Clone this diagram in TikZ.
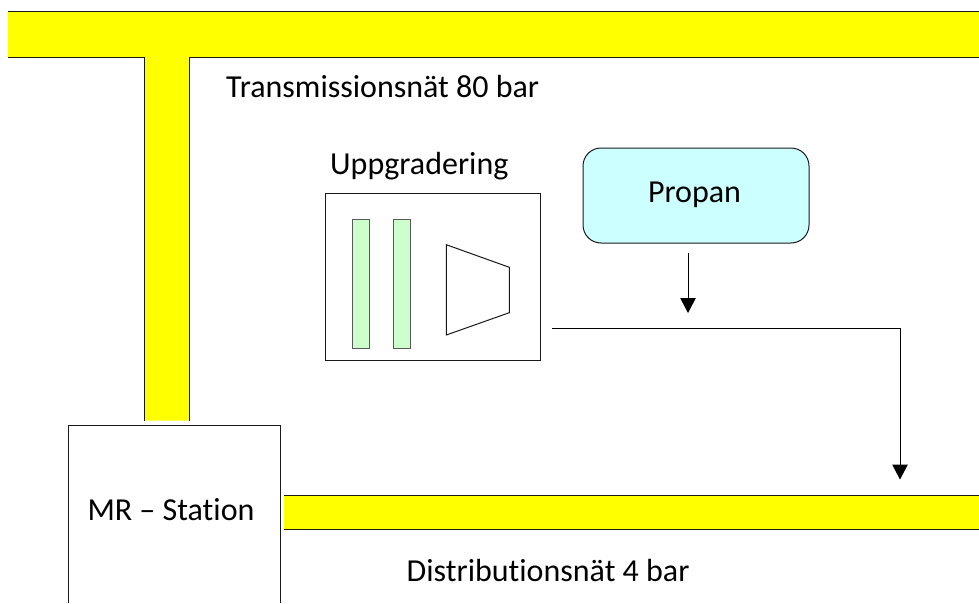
\documentclass[tikz,border=0pt]{standalone}
\usepackage{fontspec}
\setmainfont[Ligatures=NoCommon]{Carlito}
\usetikzlibrary{arrows.meta}
\definecolor{pipeyellow}{HTML}{FFFF00}
\definecolor{filtergreen}{HTML}{CCFFCC}
\definecolor{propancyan}{HTML}{CCFFFF}
\tikzset{
  edge/.style={draw=black!90,line width=1pt},
  pipefill/.style={fill=pipeyellow,draw=none},
  box/.style={draw=black!90,line width=1pt,fill=white,rectangle,inner sep=0pt,outer sep=0pt,anchor=north west},
  filterbox/.style={box,fill=filtergreen,draw=black!65,minimum width=17pt,minimum height=129pt},
  label/.style={font=\fontsize{32pt}{38pt}\selectfont,text=black,inner sep=0pt,anchor=base west},
  flow/.style={edge,draw=black,-{Triangle[length=15pt,width=15.5pt]}}
}
\begin{document}
\begin{tikzpicture}[x=1pt,y=-1pt]
\useasboundingbox (0,0) rectangle (979,603);
% transmission pipe
\fill[pipefill] (8,11.7) -- (979,11.7) -- (979,57) -- (189.7,57) -- (189.7,420.7) -- (144.5,420.7) -- (144.5,57) -- (8,57) -- cycle;
\draw[edge] (8,11.7) -- (979,11.7);
\draw[edge] (8,57) -- (144.5,57) -- (144.5,420.7);
\draw[edge] (979,57) -- (189.7,57) -- (189.7,420.7);
% distribution pipe
\fill[pipefill] (284,495.7) rectangle (979,529.3);
\draw[edge] (284,495.7) -- (979,495.7);
\draw[edge] (284,529.3) -- (979,529.3);
% MR station
\draw[edge] (68.7,603) -- (68.7,425) -- (280.7,425) -- (280.7,603);
\node[label,anchor=base] (mr) at (171,520) {MR – Station};
% labels
\node[label] (trans) at (226,97) {Transmissionsnät 80 bar};
\node[label] (dist) at (406.5,581) {Distributionsnät 4 bar};
\node[label] (upg) at (330,174) {Uppgradering};
% upgrading unit
\node[box,minimum width=214.5pt,minimum height=167pt] (unit) at (325.8,193.3) {};
\node[filterbox] (f1) at (352.7,219) {};
\node[filterbox] (f2) at (393.3,219) {};
\draw[edge] (446.3,244.7) -- (509.3,267.3) -- (509.3,312.7) -- (446.3,335) -- cycle;
% propane
\node[box,fill=propancyan,rounded corners=18pt,minimum width=226pt,minimum height=95pt] (prop) at (583,148) {};
\node[label,anchor=base] (proplabel) at (694.5,202.5) {Propan};
% flows
\coordinate (a1) at (688,253);
\coordinate (a2) at (688,313);
\draw[flow] (a1) -- (a2);
\coordinate (b1) at (552.3,328.7);
\coordinate (b2) at (900,328.7);
\coordinate (b3) at (900,479.5);
\draw[flow] (b1) -- (b2) -- (b3);
\end{tikzpicture}
\end{document}
